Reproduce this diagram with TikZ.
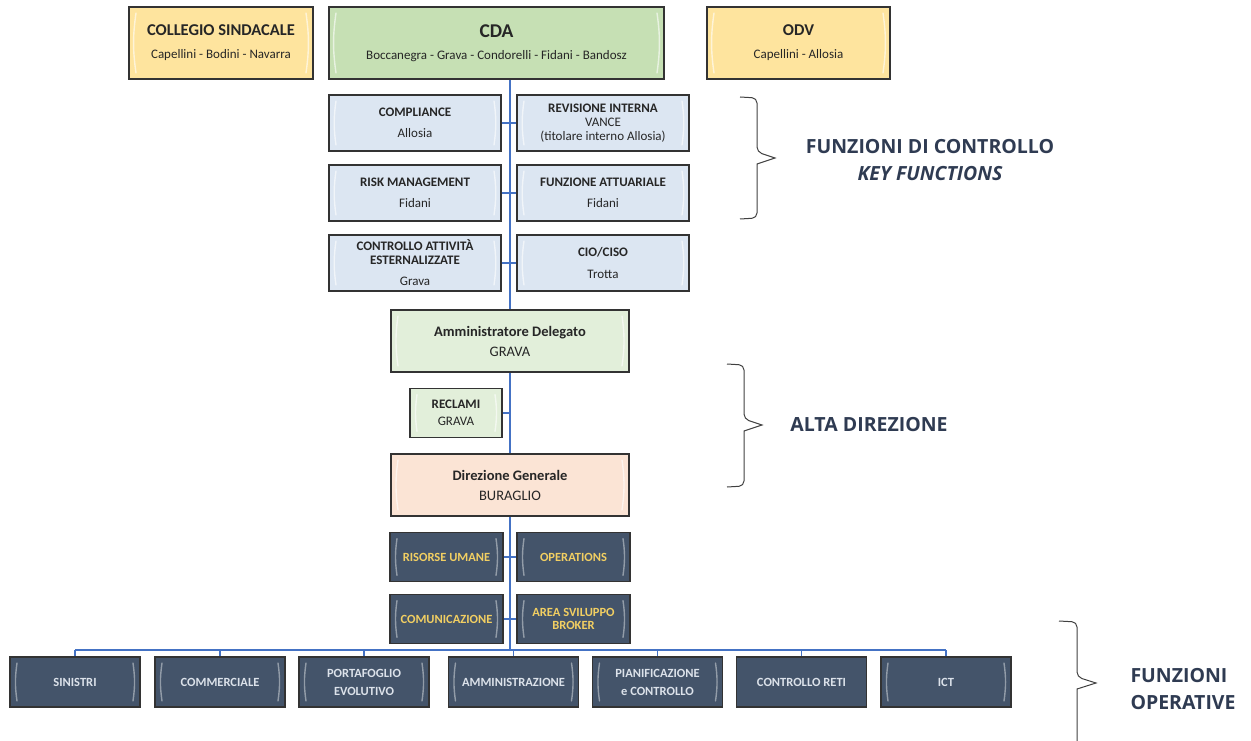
\documentclass[tikz,border=0pt]{standalone}
\usepackage{fontspec}
\setmainfont{Carlito}
\newfontfamily\labfont{Open Sans}
\usetikzlibrary{backgrounds}
\definecolor{yel}{HTML}{FEE49E}
\definecolor{cdagreen}{HTML}{C6E0B4}
\definecolor{lblue}{HTML}{DCE6F2}
\definecolor{lgreen}{HTML}{E2EFDA}
\definecolor{peach}{HTML}{FBE4D5}
\definecolor{dark}{HTML}{44546A}
\definecolor{gold}{HTML}{F2CF62}
\definecolor{pale}{HTML}{DCE2EA}
\definecolor{trunkblue}{HTML}{4472C4}
\definecolor{navy}{HTML}{2F3B52}
\tikzset{
  orgbox/.style={rectangle, draw=black!80, line width=1.3pt, align=center, inner sep=1pt, text=black!85},
  bevel/.style={path picture={
     \draw[#1, line width=1.4pt, opacity=0.6, line cap=round]
       ([xshift=7pt,yshift=-6pt]path picture bounding box.north west) to[bend right=8] ([xshift=7pt,yshift=6pt]path picture bounding box.south west);
     \draw[#1, line width=1.4pt, opacity=0.6, line cap=round]
       ([xshift=-7pt,yshift=-6pt]path picture bounding box.north east) to[bend left=8] ([xshift=-7pt,yshift=6pt]path picture bounding box.south east);
  }},
  topbox/.style={orgbox, minimum height=72pt, bevel=white},
  ctrlbox/.style={orgbox, fill=lblue, minimum width=172pt, minimum height=56pt, bevel=white, font=\fontsize{13}{14.5}\selectfont},
  darkbox/.style={orgbox, fill=dark, minimum width=113pt, minimum height=49pt, bevel=white!70!dark, text=gold, font=\bfseries\fontsize{12.5}{14}\selectfont},
  opbox/.style={orgbox, fill=dark, minimum width=130pt, minimum height=50pt, bevel=white!70!dark, text=pale, font=\bfseries\fontsize{12.5}{14}\selectfont},
  trunk/.style={draw=trunkblue, line width=2.8pt},
  link/.style={draw=trunkblue, line width=2pt},
  bus/.style={draw=trunkblue, line width=1.6pt},
  brace/.style={draw=black!75, line width=1pt, rounded corners=5pt},
  lab/.style={font=\labfont\bfseries\fontsize{19.5}{27}\selectfont, text=navy, align=left}
}
\begin{document}
\begin{tikzpicture}[x=1pt,y=-1pt]
\useasboundingbox (0,0) rectangle (1251,741);

% top row
\node[topbox, fill=yel, minimum width=184pt] (coll) at (221,43)
  {{\bfseries\fontsize{16.5}{18}\selectfont COLLEGIO SINDACALE}\\[11pt]{\fontsize{13}{15}\selectfont Capellini - Bodini - Navarra}};
\node[topbox, fill=cdagreen, minimum width=335pt] (cda) at (496.5,43)
  {{\bfseries\fontsize{19.5}{21}\selectfont CDA}\\[10pt]{\fontsize{13}{15}\selectfont Boccanegra - Grava - Condorelli - Fidani - Bandosz}};
\node[topbox, fill=yel, minimum width=183pt] (odv) at (798.5,43)
  {{\bfseries\fontsize{16.5}{18}\selectfont ODV}\\[11pt]{\fontsize{13}{15}\selectfont Capellini - Allosia}};

% control functions
\node[ctrlbox] (comp) at (415,123) {\textbf{COMPLIANCE}\\[7pt]Allosia};
\node[ctrlbox] (rev) at (603,123) {\textbf{REVISIONE INTERNA}\\[-0.5pt]VANCE\\[-0.5pt](titolare interno Allosia)};
\node[ctrlbox] (risk) at (415,193) {\textbf{RISK MANAGEMENT}\\[7pt]Fidani};
\node[ctrlbox] (att) at (603,193) {\textbf{FUNZIONE ATTUARIALE}\\[7pt]Fidani};
\node[ctrlbox] (cae) at (415,263) {\textbf{CONTROLLO ATTIVITÀ}\\[-1pt]\textbf{ESTERNALIZZATE}\\[7pt]Grava};
\node[ctrlbox] (cio) at (603,263) {\textbf{CIO/CISO}\\[7pt]Trotta};

% alta direzione
\node[orgbox, fill=lgreen, minimum width=238pt, minimum height=62pt, bevel=white, font=\fontsize{14.5}{16}\selectfont] (ad) at (510,341)
  {\textbf{Amministratore Delegato}\\[4pt]GRAVA};
\node[orgbox, fill=lgreen, minimum width=92pt, minimum height=49pt, bevel=white, font=\fontsize{13}{14.5}\selectfont] (recl) at (456,413)
  {\textbf{RECLAMI}\\[3pt]GRAVA};
\node[orgbox, fill=peach, minimum width=238pt, minimum height=62pt, bevel=white, font=\fontsize{14.5}{16}\selectfont] (dg) at (510,485)
  {\textbf{Direzione Generale}\\[4pt]BURAGLIO};

% staff
\node[darkbox] (hr) at (446.5,557) {RISORSE UMANE};
\node[darkbox] (ops) at (573.5,557) {OPERATIONS};
\node[darkbox] (com) at (446.5,619) {COMUNICAZIONE};
\node[darkbox] (asb) at (573.5,619) {AREA SVILUPPO\\[-1pt]BROKER};

% operative
\node[opbox] (sin) at (75,682) {SINISTRI};
\node[opbox] (comm) at (220,682) {COMMERCIALE};
\node[opbox] (port) at (364,682) {PORTAFOGLIO\\[4pt]EVOLUTIVO};
\node[opbox] (amm) at (513.5,682) {AMMINISTRAZIONE};
\node[opbox] (pian) at (657.5,682) {PIANIFICAZIONE\\[4pt]e CONTROLLO};
\node[opbox, path picture={}] (reti) at (801.5,682) {CONTROLLO RETI};
\node[opbox] (ict) at (946,682) {ICT};

% connectors
\coordinate (top) at (510,79);
\coordinate (busmid) at (510,650);
\begin{scope}[on background layer]
\draw[trunk] (top) -- (busmid);
\end{scope}
\draw[link] (comp.east) -- (rev.west);
\draw[link] (risk.east) -- (att.west);
\draw[link] (cae.east) -- (cio.west);
\draw[link] (recl.east) -- (recl.east -| top);
\draw[link] (hr.east) -- (ops.west);
\draw[link] (com.east) -- (asb.west);
\draw[bus] (sin.north |- busmid) -- (ict.north |- busmid);
\foreach \n in {sin,comm,port,amm,pian,reti,ict}
  \draw[bus] (\n.north |- busmid) -- (\n.north);

% braces
\draw[brace] (740,97) -- (757,98) -- (757,152) [sharp corners]-- (775,158) -- (757,164) [rounded corners=5pt]-- (757,218) -- (740,219);
\draw[brace] (727,364) -- (744,365) -- (744,419) [sharp corners]-- (762,425) -- (744,431) [rounded corners=5pt]-- (744,486) -- (727,487);
\draw[brace] (1059,621) -- (1077,622) -- (1077,677) [sharp corners]-- (1096,683) -- (1077,689) [rounded corners=5pt]-- (1077,745);

% labels
\node[lab, align=center] (lctrl) at (930,160) {FUNZIONI DI CONTROLLO\\\itshape KEY FUNCTIONS};
\node[lab] (lalta) at (869,425) {ALTA DIREZIONE};
\node[lab, anchor=west] (lop) at (1127,689) {FUNZIONI\\OPERATIVE};
\end{tikzpicture}
\end{document}
